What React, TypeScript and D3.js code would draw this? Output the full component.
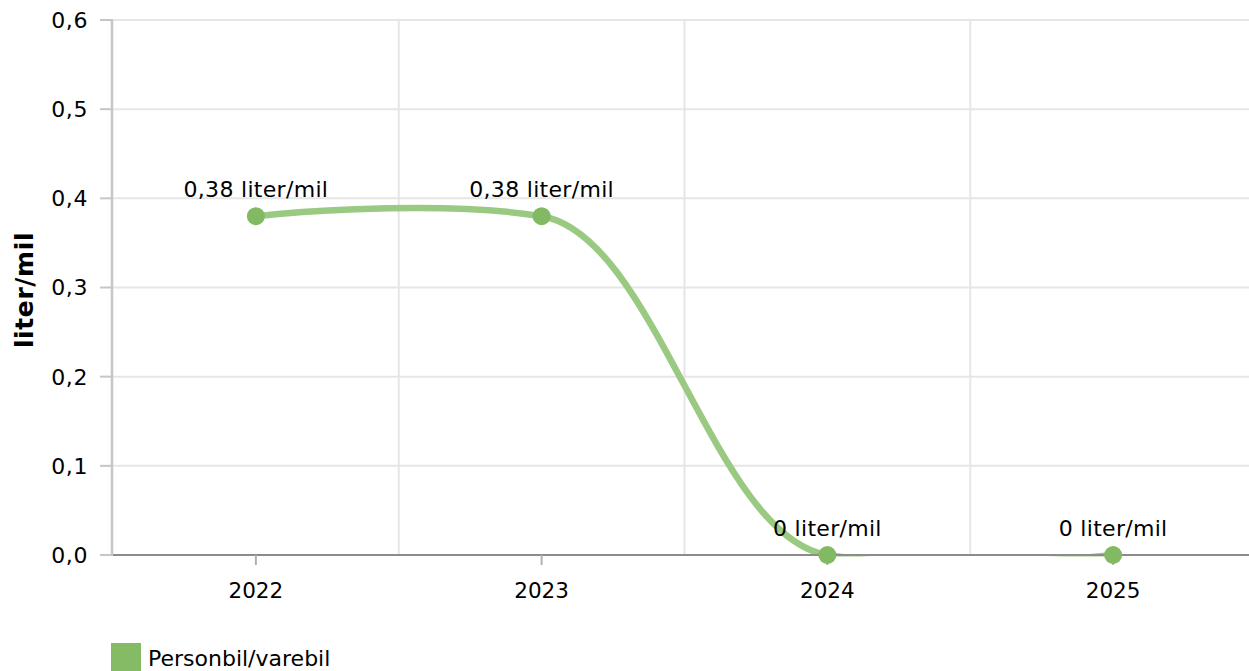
import React from "react";
import * as d3 from "d3";

const categories = ["2022", "2023", "2024", "2025"];
const values = [0.38, 0.38, 0, 0];
const yTicks = [0, 0.1, 0.2, 0.3, 0.4, 0.5, 0.6];
const seriesName = "Personbil/varebil";
const unit = "liter/mil";

const W = 1249;
const H = 671;
const FONT = "'DejaVu Sans', Verdana, sans-serif";
const LINE_COLOR = "#9ac981";
const DOT_COLOR = "#82ba63";

function fmt(v: number, digits?: number) {
  const s = digits !== undefined ? v.toFixed(digits) : String(+v.toFixed(2));
  return s.replace(".", ",");
}

// Highcharts-like spline: control points at 0.4 dx, reduced interior tangent
function splinePath(pts: [number, number][], k: number, f: number) {
  const n = pts.length;
  const slopes = pts.map((p, i) =>
    i === 0 || i === n - 1
      ? null
      : (k * (pts[i + 1][1] - pts[i - 1][1])) / (pts[i + 1][0] - pts[i - 1][0])
  );
  let d = `M${pts[0][0]},${pts[0][1]}`;
  for (let i = 1; i < n; i++) {
    const p0 = pts[i - 1];
    const p1 = pts[i];
    const dx = p1[0] - p0[0];
    const s0 = slopes[i - 1];
    const s1 = slopes[i];
    const c1x = p0[0] + (s0 === null ? 0 : f * dx);
    const c1y = p0[1] + (s0 === null ? 0 : s0 * f * dx);
    const c2x = p1[0] - (s1 === null ? 0 : f * dx);
    const c2y = p1[1] - (s1 === null ? 0 : s1 * f * dx);
    d += `C${c1x},${c1y},${c2x},${c2y},${p1[0]},${p1[1]}`;
  }
  return d;
}

export default function App() {
  const left = 113;
  const right = 1256;
  const top = 20;
  const bottom = 555;

  const x = d3.scaleBand<string>().domain(categories).range([left, right]).padding(0);
  const y = d3.scaleLinear().domain([0, 0.6]).range([bottom, top]);
  const cx = (c: string) => (x(c) as number) + x.bandwidth() / 2;

  const pts: [number, number][] = categories.map((c, i) => [cx(c), y(values[i])]);
  const path = splinePath(pts, 0.27, 0.4);

  const boundaries = categories.slice(1).map((c) => x(c) as number);

  return (
    <svg
      width={W}
      height={H}
      style={{ position: "absolute", left: 0, top: 0, background: "#fff" }}
      fontFamily={FONT}
    >
      <defs>
        <clipPath id="plotclip">
          <rect x={left} y={0} width={right - left} height={bottom + 1.5} />
        </clipPath>
      </defs>
      {/* horizontal grid */}
      {yTicks.map((t) => (
        <line key={"h" + t} x1={left} x2={W} y1={y(t)} y2={y(t)} stroke="#e6e6e6" strokeWidth={2} />
      ))}
      {/* vertical grid */}
      {boundaries.map((b, i) => (
        <line key={"v" + i} x1={b} x2={b} y1={top} y2={bottom} stroke="#e6e6e6" strokeWidth={2} />
      ))}
      {/* y axis */}
      <line x1={left - 1} x2={left - 1} y1={top} y2={bottom} stroke="#c6c6c6" strokeWidth={2.5} />
      {yTicks.map((t) => (
        <g key={"yt" + t}>
          <line x1={100} x2={left} y1={y(t)} y2={y(t)} stroke="#c6c6c6" strokeWidth={2} />
          <text x={88} y={y(t)} dy="0.36em" textAnchor="end" fontSize={22} letterSpacing={0.6} fill="#000">
            {fmt(t, 1)}
          </text>
        </g>
      ))}
      <text
        transform={`translate(24,290) rotate(-90)`}
        textAnchor="middle"
        dy="0.36em"
        fontSize={25}
        letterSpacing={0.6}
        fontWeight="bold"
        fill="#000"
      >
        {unit}
      </text>
      {/* series line */}
      <path d={path} fill="none" stroke={LINE_COLOR} strokeWidth={6.5} clipPath="url(#plotclip)" strokeLinecap="round" />
      {/* x axis */}
      <line x1={left} x2={W} y1={bottom} y2={bottom} stroke="#8c8c8c" strokeWidth={2} />
      {categories.map((c) => (
        <g key={"xt" + c}>
          <line x1={cx(c)} x2={cx(c)} y1={bottom} y2={bottom + 10} stroke="#b0b0b0" strokeWidth={2} />
          <text x={cx(c)} y={598} textAnchor="middle" fontSize={21.5} fill="#000">
            {c}
          </text>
        </g>
      ))}
      {/* points + labels */}
      {categories.map((c, i) => (
        <g key={"p" + c}>
          <circle cx={cx(c)} cy={y(values[i])} r={9} fill={DOT_COLOR} />
          <text x={cx(c)} y={y(values[i]) - 19} textAnchor="middle" fontSize={22} letterSpacing={0.3} fill="#000">
            {`${fmt(values[i])} ${unit}`}
          </text>
        </g>
      ))}
      {/* legend */}
      <rect x={111} y={643} width={30} height={30} fill="#85bb65" />
      <text x={148} y={666} fontSize={22} fill="#000">
        {seriesName}
      </text>
    </svg>
  );
}
